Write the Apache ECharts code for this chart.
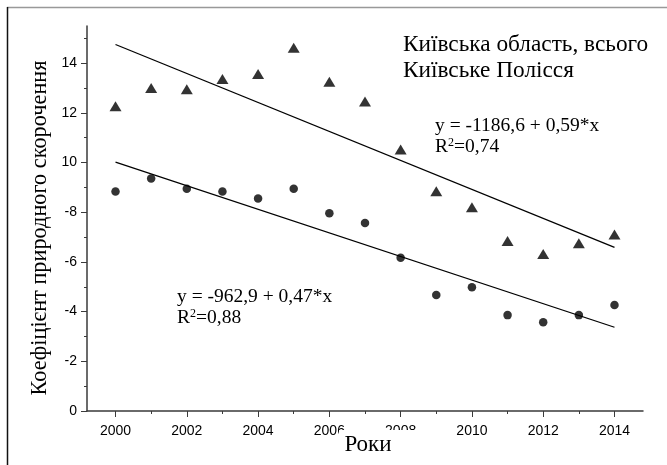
<!DOCTYPE html>
<html><head><meta charset="utf-8">
<script src="https://cdn.jsdelivr.net/npm/echarts@6/dist/echarts.min.js"></script>
<style>html,body{margin:0;padding:0;background:#fff}#c{width:667px;height:465px}</style>
</head><body><div id="c"></div><script>
// ---- data ----
const years = [2000,2001,2002,2003,2004,2005,2006,2007,2008,2009,2010,2011,2012,2013,2014];
const kyivRegionTotal = [12.27,13.0,12.95,13.37,13.57,14.62,13.26,12.46,10.53,8.85,8.2,6.84,6.32,6.75,7.11];
const kyivPolissya = [8.84,9.36,8.95,8.84,8.56,8.95,7.96,7.57,6.17,4.67,4.98,3.86,3.57,3.86,4.27];
const yTickValues = [0,2,4,6,8,10,12,14];
const yTickLabels = ['0','-2','-4','-6','-8','10','12','14'];
const xAxisTitle = 'Роки';
const yAxisTitle = 'Коефіцієнт природного скорочення';
const legendLine1 = 'Київська область, всього';
const legendLine2 = 'Київське Полісся';
const eqTop = 'y = -1186,6 + 0,59*x';
const r2Top = '0,74';
const eqBottom = 'y = -962,9 + 0,47*x';
const r2Bottom = '0,88';

// least-squares trend line through a series
function trend(xs, ys) {
  const n = xs.length;
  const mx = xs.reduce((a,b)=>a+b,0)/n, my = ys.reduce((a,b)=>a+b,0)/n;
  let sxy = 0, sxx = 0;
  for (let i=0;i<n;i++){ sxy += (xs[i]-mx)*(ys[i]-my); sxx += (xs[i]-mx)*(xs[i]-mx); }
  const b = sxy/sxx, a = my - b*mx;
  const x0 = xs[0], x1 = xs[n-1];
  return [[x0, a+b*x0],[x1, a+b*x1]];
}
const pairs = (ys) => years.map((y,i)=>[y, ys[i]]);

const axisColor = '#3a3a3a';
const serif = '"Liberation Serif", "Times New Roman", serif';
const sans = '"Liberation Sans", Arial, sans-serif';

const chart = echarts.init(document.getElementById('c'), null, {renderer:'canvas'});
const hiddenAxis = (g) => ({gridIndex:g, type:'value', show:false, axisLine:{onZero:false}});
const eqStyle = (t) => ({text:t, fontFamily:serif, fontSize:19.5, fill:'#000', align:'left', verticalAlign:'middle',
  rich:{s:{fontFamily:serif, fontSize:12, verticalAlign:'top', padding:[0,0,9,0]}}});

chart.setOption({
  animation:false,
  backgroundColor:'#fff',
  grid:[
    {left:87, right:24, top:26, bottom:54},
    {left:115.5, right:52.5, top:26, bottom:54},
    {left:87, right:24, top:63.1, bottom:54},
    {left:87, right:24, top:38.25, bottom:78.85}
  ],
  xAxis:[
    {gridIndex:0, type:'value', min:1999.2, max:2014.8,
      axisLine:{show:true, onZero:false, lineStyle:{color:axisColor, width:1.5}},
      axisTick:{show:false}, axisLabel:{show:false}, splitLine:{show:false}},
    {gridIndex:1, type:'value', min:2000, max:2014, interval:2,
      axisLine:{show:false, onZero:false},
      axisTick:{show:true, length:6, lineStyle:{color:axisColor, width:1}},
      minorTick:{show:true, splitNumber:2, length:3, lineStyle:{color:axisColor, width:1}},
      axisLabel:{show:true, margin:13, color:'#000', fontFamily:sans, fontSize:14, formatter:(v)=>String(v)},
      splitLine:{show:false}, minorSplitLine:{show:false}},
    hiddenAxis(2), hiddenAxis(3)
  ],
  yAxis:[
    {gridIndex:0, type:'value', min:0, max:15.5,
      axisLine:{show:true, onZero:false, lineStyle:{color:axisColor, width:1.5}},
      axisTick:{show:false}, axisLabel:{show:false}, splitLine:{show:false}},
    hiddenAxis(1),
    {gridIndex:2, type:'value', min:0, max:14, interval:2,
      axisLine:{show:false, onZero:false},
      axisTick:{show:true, length:6, lineStyle:{color:axisColor, width:1}},
      axisLabel:{show:true, margin:10, color:'#000', fontFamily:sans, fontSize:14,
        formatter:(v)=>{const i=yTickValues.indexOf(v); return i>=0?yTickLabels[i]:'';}},
      splitLine:{show:false}},
    {gridIndex:3, type:'value', min:1, max:15, interval:2,
      axisLine:{show:false, onZero:false},
      axisTick:{show:true, length:3, lineStyle:{color:axisColor, width:1}},
      axisLabel:{show:false}, splitLine:{show:false}}
  ],
  series:[
    {name:legendLine1, type:'scatter', xAxisIndex:0, yAxisIndex:0, symbol:'triangle', symbolSize:[12,10],
      itemStyle:{color:'#000'}, data:pairs(kyivRegionTotal)},
    {name:legendLine2, type:'scatter', xAxisIndex:0, yAxisIndex:0, symbol:'circle', symbolSize:8.5,
      itemStyle:{color:'#000'}, data:pairs(kyivPolissya)},
    {type:'line', xAxisIndex:0, yAxisIndex:0, symbol:'none', lineStyle:{color:'#000', width:1.3},
      data:trend(years, kyivRegionTotal)},
    {type:'line', xAxisIndex:0, yAxisIndex:0, symbol:'none', lineStyle:{color:'#000', width:1.3},
      data:trend(years, kyivPolissya)}
  ],
  graphic:[
    {type:'line', z:100, shape:{x1:7, y1:7.5, x2:667, y2:7.5}, style:{stroke:'#999', lineWidth:1.5}},
    {type:'line', z:100, shape:{x1:7.5, y1:7, x2:7.5, y2:465}, style:{stroke:'#111', lineWidth:1.5}},
    {type:'rect', z:100, shape:{x:339, y:430, width:80, height:30}, style:{fill:'#fff'}},
    {type:'text', z:101, x:368, y:445, style:{text:xAxisTitle, fontFamily:serif, fontSize:23, fill:'#000', align:'center', verticalAlign:'middle'}},
    {type:'text', z:101, x:40, y:228, rotation:Math.PI/2, style:{text:yAxisTitle, fontFamily:serif, fontSize:22.3, fill:'#000', align:'center', verticalAlign:'middle'}},
    {type:'text', z:101, x:403, y:45, style:{text:legendLine1, fontFamily:serif, fontSize:23.3, fill:'#000', align:'left', verticalAlign:'middle'}},
    {type:'text', z:101, x:403, y:71, style:{text:legendLine2, fontFamily:serif, fontSize:23.3, fill:'#000', align:'left', verticalAlign:'middle'}},
    {type:'text', z:101, x:435, y:126, style:eqStyle(eqTop)},
    {type:'text', z:101, x:435, y:147, style:eqStyle('R{s|2}=' + r2Top)},
    {type:'text', z:101, x:177, y:297, style:eqStyle(eqBottom)},
    {type:'text', z:101, x:177, y:318, style:eqStyle('R{s|2}=' + r2Bottom)}
  ]
});
</script></body></html>
